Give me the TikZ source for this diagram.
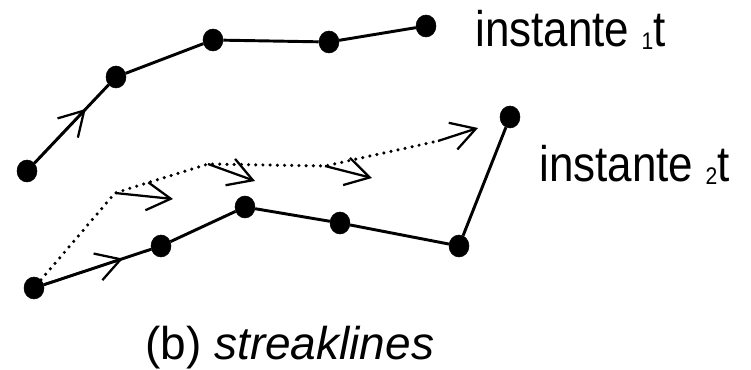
\documentclass[tikz,border=0pt]{standalone}
\usepackage{fontspec}
\setmainfont{Liberation Sans}
\newfontfamily\labelfont[FakeStretch=0.88]{Liberation Sans}
\usetikzlibrary{shapes.geometric,arrows.meta,calc}
\begin{document}
\begin{tikzpicture}[x=0.75pt,y=-0.75pt,
% common options for the particles:
dot/.style = {ellipse, fill=black, draw=black, minimum width=15pt,
            minimum height=16.5pt, inner sep=0},
% common options for the lines:
line/.style = {line width=2.2pt},
trace/.style = {line width=2.6pt, line cap=round, dash pattern=on 0pt off 5.4pt},
flow/.style = {line width=1.7pt, -{Straight Barb[length=18pt,width=21pt]}}]
\useasboundingbox (0,0) rectangle (751,370);
% particles at the first instant
\node[dot] (a1) at (27,171) {};
\node[dot] (a2) at (116,77) {};
\node[dot] (a3) at (213,40) {};
\node[dot] (a4) at (329,42) {};
\node[dot] (a5) at (426,26) {};
% particles at the second instant
\node[dot] (b1) at (34,288) {};
\node[dot] (b2) at (161,246) {};
\node[dot] (b3) at (245,207) {};
\node[dot] (b4) at (340,223) {};
\node[dot] (b5) at (459,246) {};
\node[dot] (b6) at (510,117) {};
% points on the streakline
\coordinate (s1) at (115,193);
\coordinate (s2) at (208,164);
\coordinate (s3) at (325,166);
\coordinate (s4) at (438,141);
\coordinate (v1) at (173,199);
\coordinate (v2) at (255,181);
\coordinate (v3) at (372,178);
\coordinate (v4) at (478,128);
\draw[line] (a1) -- (a2) -- (a3) -- (a4) -- (a5);
\draw[line] (b1) -- (b2) -- (b3) -- (b4) -- (b5) -- (b6);
\draw[flow] (a1) -- ($(a1)!0.66!(a2)$);
\draw[flow] (b1) -- ($(b1)!0.70!(b2)$);
\draw[trace] (b1) -- (s1) -- (s2) -- (s3) -- (s4);
\draw[flow] (s1) -- (v1);
\draw[flow] (s2) -- (v2);
\draw[flow] (s3) -- (v3);
\draw[flow] (s4) -- (v4);
% labels
\node[anchor=base west, inner sep=0] (t1) at (475,47)
  {\labelfont\fontsize{37.5}{37.5}\selectfont instante {\fontsize{18}{18}\selectfont\raisebox{-2pt}{1}}t};
\node[anchor=base west, inner sep=0] (t2) at (539,182)
  {\labelfont\fontsize{37.5}{37.5}\selectfont instante {\fontsize{18}{18}\selectfont\raisebox{-2pt}{2}}t};
\node[anchor=base west, inner sep=0] (cap) at (145,360)
  {\fontsize{34.5}{34.5}\selectfont (b) \textit{streaklines}};
\end{tikzpicture}
\end{document}
